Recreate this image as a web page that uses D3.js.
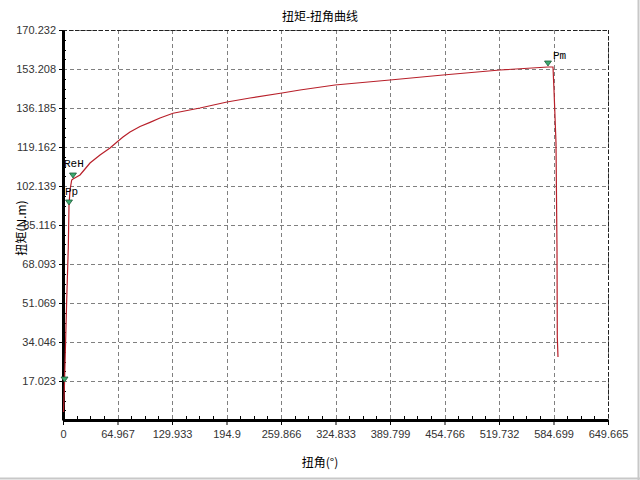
<!DOCTYPE html>
<html><head><meta charset="utf-8">
<script src="https://cdn.jsdelivr.net/npm/d3@7"></script>
<style>body{margin:0;background:#fff;}svg{display:block;}</style>
</head><body>
<svg id="c" width="640" height="480"></svg>
<script>
const angle = [0.60,1.79,4.41,6.32,7.15,8.34,10.37,11.92,20.26,26.23,32.19,44.11,56.03,64.37,71.52,79.87,91.79,103.71,115.6,131.13,163.31,195.50,222.92,261.06,282.52,324.24,389.80,452.98,520.93,578.14,584.10,585.29,587.68,588.87,589.23,590.06];
const torque = [3.49,16.15,52.38,75.51,93.41,100.39,104.76,105.19,106.94,109.56,112.18,115.67,118.72,121.34,123.5,125.7,128.1,129.9,131.8,133.9,136.18,138.80,140.55,142.73,144.04,146.22,148.41,150.59,152.77,154.08,154.08,144.04,120.91,74.20,36.23,27.50];
const markerNames = ["", "Pp", "ReH", "Pm"];
const markerAngle = [1.79, 7.15, 11.92, 578.14];
const markerTorque = [16.15, 93.41, 105.19, 154.08];
const xTicks = [0,64.967,129.933,194.9,259.866,324.833,389.799,454.766,519.732,584.699,649.665];
const yTicks = [17.023,34.046,51.069,68.093,85.116,102.139,119.162,136.185,153.208,170.232];
const title = "扭矩-扭角曲线";
const xTitle = "扭角(°)";
const yTitle = "扭矩(N.m)";

const svg = d3.select("#c");
const L=63,R=608,T=30,B=420;
const x = d3.scaleLinear().domain([0,649.665]).range([L,R]);
const y = d3.scaleLinear().domain([0,170.232]).range([B,T]);

// window frame
svg.append("line").attr("x1",0).attr("x2",640).attr("y1",478.5).attr("y2",478.5).attr("stroke","#c8c8c8").attr("stroke-width",2);
svg.append("line").attr("x1",638.5).attr("x2",638.5).attr("y1",0).attr("y2",480).attr("stroke","#c8c8c8").attr("stroke-width",2);

// grid
const g = svg.append("g");
g.selectAll(".vg").data(xTicks.slice(1)).join("line")
 .attr("x1",d=>Math.round(x(d))+0.5).attr("x2",d=>Math.round(x(d))+0.5).attr("y1",T).attr("y2",B)
 .attr("stroke","#808080").attr("stroke-dasharray","4,3");
g.selectAll(".hg").data(yTicks).join("line")
 .attr("y1",d=>Math.round(y(d))+0.5).attr("y2",d=>Math.round(y(d))+0.5).attr("x1",L).attr("x2",R)
 .attr("stroke","#808080").attr("stroke-dasharray","4,3");
// top & right border dashed dark
svg.append("line").attr("x1",L).attr("x2",R).attr("y1",T+0.5).attr("y2",T+0.5).attr("stroke","#222").attr("stroke-dasharray","4,2");
svg.append("line").attr("x1",R+0.5).attr("x2",R+0.5).attr("y1",T).attr("y2",B).attr("stroke","#222").attr("stroke-dasharray","4,2");

// axes
const xa = svg.append("g").attr("transform",`translate(0,${B})`)
 .call(d3.axisBottom(x).tickValues(xTicks).tickFormat(d=>String(d)).tickSize(5).tickSizeOuter(0));
xa.select(".domain").attr("stroke","#000").attr("stroke-width",3);
xa.selectAll("text").attr("font-family","Liberation Sans, Arial, sans-serif").attr("font-size","11px").attr("fill","#333").attr("dy","0.9em");
// minor x ticks
const minorX = [];
for(let i=0;i<xTicks.length-1;i++){for(let k=1;k<4;k++){minorX.push(xTicks[i]+(xTicks[i+1]-xTicks[i])*k/4);}}
svg.selectAll(".mx").data(minorX).join("line").attr("x1",d=>Math.round(x(d))+0.5).attr("x2",d=>Math.round(x(d))+0.5)
 .attr("y1",B).attr("y2",B-4).attr("stroke","#000");

const ya = svg.append("g").attr("transform",`translate(${L},0)`)
 .call(d3.axisLeft(y).tickValues(yTicks).tickFormat(d=>d.toFixed(3)).tickSize(4).tickSizeOuter(0));
ya.select(".domain").attr("stroke","#000").attr("stroke-width",3);
ya.selectAll("text").attr("font-family","Liberation Sans, Arial, sans-serif").attr("font-size","11px").attr("fill","#333");
const minorY = [];
const yAll=[0].concat(yTicks);
for(let i=0;i<yAll.length-1;i++){for(let k=1;k<4;k++){minorY.push(yAll[i]+(yAll[i+1]-yAll[i])*k/4);}}
svg.selectAll(".my").data(minorY).join("line").attr("y1",d=>Math.round(y(d))+0.5).attr("y2",d=>Math.round(y(d))+0.5)
 .attr("x1",L).attr("x2",L+3).attr("stroke","#000");

// curve
const pts = angle.map((a,i)=>[a,torque[i]]);
svg.append("path").datum(pts).attr("fill","none").attr("stroke","#b8202a").attr("stroke-width",1.2)
 .attr("d",d3.line().x(d=>x(d[0])).y(d=>y(d[1])));

// markers
const mk = markerNames.map((n,i)=>({n,a:markerAngle[i],t:markerTorque[i]}));
svg.selectAll(".tri").data(mk).join("path")
 .attr("d",d=>{const px=x(d.a),py=y(d.t);return `M${px-3.5},${py-6}L${px+3.5},${py-6}L${px},${py-1}Z`;})
 .attr("fill","#3caa6e").attr("stroke","#1f5a3a").attr("stroke-width",0.8);
const off = {"Pp":[-4,-11],"ReH":[-9,-12],"Pm":[5,-8]};
svg.selectAll(".ml").data(mk.filter(d=>d.n)).join("text")
 .attr("x",d=>x(d.a)+off[d.n][0]).attr("y",d=>y(d.t)+off[d.n][1])
 .attr("font-family","Liberation Mono, Courier New, monospace").attr("font-size","11px").attr("fill","#000").text(d=>d.n);

// titles
svg.append("text").attr("x",320).attr("y",21).attr("text-anchor","middle")
 .attr("font-family","Noto Sans CJK SC, sans-serif").attr("font-size","12px").attr("fill","#000").text(title);
svg.append("text").attr("x",320).attr("y",467).attr("text-anchor","middle")
 .attr("font-family","Noto Sans CJK SC, sans-serif").attr("font-size","12px").attr("fill","#000").text(xTitle);
svg.append("text").attr("transform","translate(26,228) rotate(-90)").attr("text-anchor","middle")
 .attr("font-family","Noto Sans CJK SC, sans-serif").attr("font-size","12px").attr("fill","#000").text(yTitle);
</script>
</body></html>
